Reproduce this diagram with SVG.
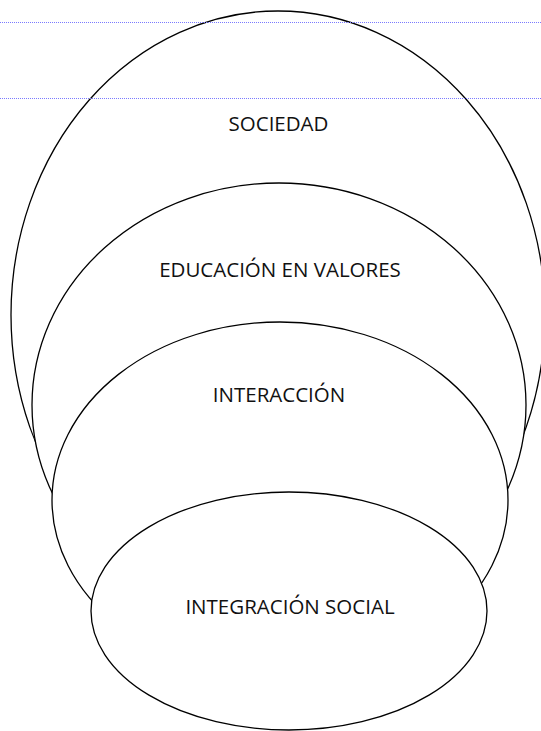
<svg xmlns="http://www.w3.org/2000/svg" width="541" height="731" viewBox="0 0 541 731">
<style>
.e{fill:#ffffff;stroke:#000000;stroke-width:1.3}
.t{font-family:"Open Sans","Noto Sans","Liberation Sans",sans-serif;font-size:20.5px;fill:#111111;text-anchor:middle}
.g{stroke:#7a7aff;stroke-width:1;stroke-dasharray:1 1;fill:none}
</style>
<rect width="541" height="731" fill="#ffffff"/>
<g id="sociedad">
<ellipse class="e" cx="278" cy="315" rx="267" ry="304"/>
<text class="t" x="278.5" y="131">SOCIEDAD</text>
</g>
<g id="educacion">
<ellipse class="e" cx="279" cy="405" rx="247" ry="222"/>
<text class="t" x="280" y="277">EDUCACIÓN EN VALORES</text>
</g>
<g id="interaccion">
<ellipse class="e" cx="280" cy="500" rx="228" ry="178"/>
<text class="t" x="279" y="402">INTERACCIÓN</text>
</g>
<g id="integracion">
<ellipse class="e" cx="289" cy="611" rx="198" ry="119"/>
<text class="t" x="290" y="614">INTEGRACIÓN SOCIAL</text>
</g>
<g id="guides">
<line class="g" x1="0" y1="22.5" x2="541" y2="22.5"/>
<line class="g" x1="0" y1="98.5" x2="541" y2="98.5"/>
</g>
</svg>
